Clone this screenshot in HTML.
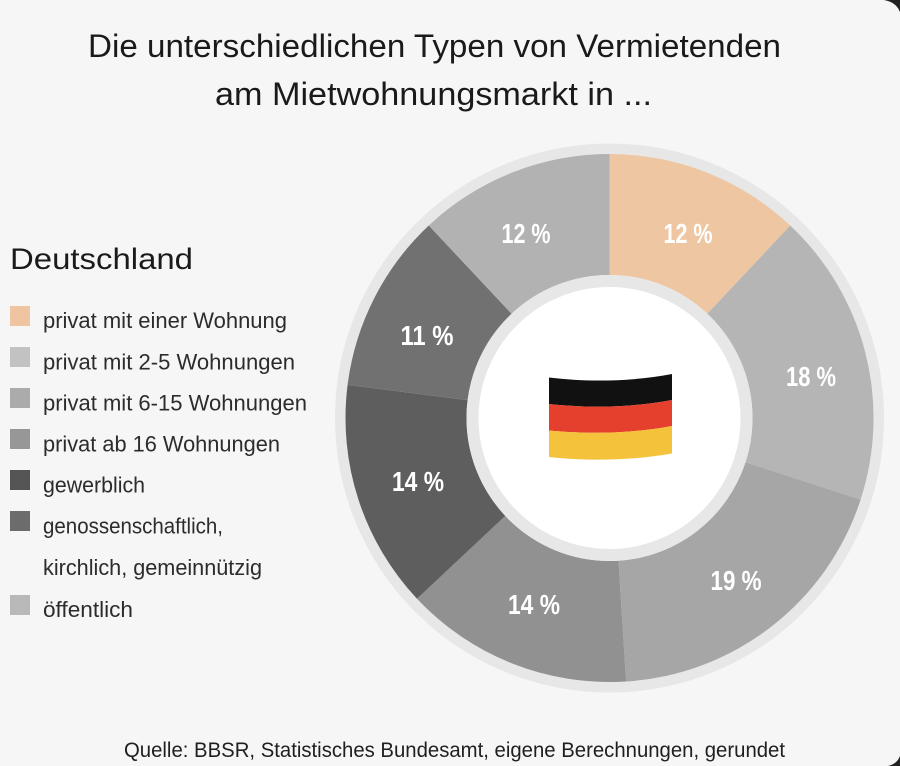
<!DOCTYPE html>
<html>
<head>
<meta charset="utf-8">
<style>
  html, body { margin: 0; padding: 0; background: #f6f6f6; }
  body { width: 900px; height: 766px; overflow: hidden; }
  svg { display: block; }
  .t { font-family: "Liberation Sans", sans-serif; }
</style>
</head>
<body>
<svg width="900" height="766" viewBox="0 0 900 766" xmlns="http://www.w3.org/2000/svg">
  <rect x="0" y="0" width="900" height="766" fill="#f6f6f6"/>

  <!-- Title -->
  <text class="t" x="88" y="57" font-size="32" fill="#1a1a1a" textLength="693" lengthAdjust="spacingAndGlyphs">Die unterschiedlichen Typen von Vermietenden</text>
  <text class="t" x="215" y="105" font-size="32" fill="#1a1a1a" textLength="437" lengthAdjust="spacingAndGlyphs">am Mietwohnungsmarkt in ...</text>

  <!-- Legend -->
  <text class="t" x="10" y="269" font-size="30" fill="#1a1a1a" textLength="183" lengthAdjust="spacingAndGlyphs">Deutschland</text>

  <rect x="10" y="306" width="20" height="20" fill="#efc4a0"/>
  <text class="t" x="43" y="328" font-size="22.5" fill="#2c2c2c" textLength="244" lengthAdjust="spacingAndGlyphs">privat mit einer Wohnung</text>

  <rect x="10" y="347" width="20" height="20" fill="#c2c2c2"/>
  <text class="t" x="43" y="369.5" font-size="22.5" fill="#2c2c2c" textLength="252" lengthAdjust="spacingAndGlyphs">privat mit 2-5 Wohnungen</text>

  <rect x="10" y="388" width="20" height="20" fill="#ababab"/>
  <text class="t" x="43" y="410.5" font-size="22.5" fill="#2c2c2c" textLength="264" lengthAdjust="spacingAndGlyphs">privat mit 6-15 Wohnungen</text>

  <rect x="10" y="429" width="20" height="20" fill="#979797"/>
  <text class="t" x="43" y="451.5" font-size="22.5" fill="#2c2c2c" textLength="237" lengthAdjust="spacingAndGlyphs">privat ab 16 Wohnungen</text>

  <rect x="10" y="470" width="20" height="20" fill="#555555"/>
  <text class="t" x="43" y="492.5" font-size="22.5" fill="#2c2c2c" textLength="102" lengthAdjust="spacingAndGlyphs">gewerblich</text>

  <rect x="10" y="511" width="20" height="20" fill="#6c6c6c"/>
  <text class="t" x="43" y="533.5" font-size="22.5" fill="#2c2c2c" textLength="180" lengthAdjust="spacingAndGlyphs">genossenschaftlich,</text>
  <text class="t" x="43" y="575" font-size="22.5" fill="#2c2c2c" textLength="219" lengthAdjust="spacingAndGlyphs">kirchlich, gemeinnützig</text>

  <rect x="10" y="595" width="20" height="20" fill="#b9b9b9"/>
  <text class="t" x="43" y="617" font-size="22.5" fill="#2c2c2c" textLength="90" lengthAdjust="spacingAndGlyphs">öffentlich</text>

  <!-- Donut outer light ring -->
  <circle cx="609.5" cy="418" r="269" fill="none" stroke="#e7e7e7" stroke-width="11"/>

  <!-- Segments -->
  <path d="M609.5 154 A264 264 0 0 1 790.2 225.5 L707.4 313.8 A143 143 0 0 0 609.5 275 Z" fill="#eec6a1"/>
  <path d="M790.2 225.5 A264 264 0 0 1 860.6 499.6 L745.5 462.2 A143 143 0 0 0 707.4 313.8 Z" fill="#b5b5b5"/>
  <path d="M860.6 499.6 A264 264 0 0 1 626.1 681.5 L618.5 560.7 A143 143 0 0 0 745.5 462.2 Z" fill="#a6a6a6"/>
  <path d="M626.1 681.5 A264 264 0 0 1 417.0 598.7 L505.3 515.9 A143 143 0 0 0 618.5 560.7 Z" fill="#919191"/>
  <path d="M417.0 598.7 A264 264 0 0 1 347.6 384.9 L467.6 400.1 A143 143 0 0 0 505.3 515.9 Z" fill="#5e5e5e"/>
  <path d="M347.6 384.9 A264 264 0 0 1 428.8 225.5 L511.6 313.8 A143 143 0 0 0 467.6 400.1 Z" fill="#717171"/>
  <path d="M428.8 225.5 A264 264 0 0 1 609.5 154 L609.5 275 A143 143 0 0 0 511.6 313.8 Z" fill="#b2b2b2"/>

  <!-- Inner ring and hole -->
  <circle cx="609.5" cy="418" r="137" fill="#ffffff" stroke="#e7e7e7" stroke-width="12"/>

  <!-- Labels -->
  <g class="t" font-size="28" font-weight="bold" fill="#ffffff" text-anchor="middle">
    <text x="526" y="243" textLength="49" lengthAdjust="spacingAndGlyphs">12 %</text>
    <text x="688" y="243" textLength="49" lengthAdjust="spacingAndGlyphs">12 %</text>
    <text x="811" y="386" textLength="50" lengthAdjust="spacingAndGlyphs">18 %</text>
    <text x="736" y="590" textLength="51" lengthAdjust="spacingAndGlyphs">19 %</text>
    <text x="534" y="614" textLength="52" lengthAdjust="spacingAndGlyphs">14 %</text>
    <text x="418" y="491" textLength="52" lengthAdjust="spacingAndGlyphs">14 %</text>
    <text x="427" y="345" textLength="53" lengthAdjust="spacingAndGlyphs">11 %</text>
  </g>

  <!-- Flag -->
  <g>
    <path d="M549 377.5 C585 382 630 382 672 374 L672 400 C630 408 585 408 549 404 Z" fill="#111111"/>
    <path d="M549 404 C585 408 630 408 672 400 L672 426 C630 434 585 434 549 430.5 Z" fill="#e5402d"/>
    <path d="M549 430.5 C585 434 630 434 672 426 L672 453.5 C630 461 585 461 549 457 Z" fill="#f5c33b"/>
  </g>

  <!-- Footer -->
  <text class="t" x="124" y="757" font-size="21" fill="#1f1f1f" textLength="661" lengthAdjust="spacingAndGlyphs">Quelle: BBSR, Statistisches Bundesamt, eigene Berechnungen, gerundet</text>

  <!-- Dark photo corners -->
  <path d="M884 0 L900 0 L900 12 Q896 2 884 0 Z" fill="#222"/>
  <path d="M888 766 L900 766 L900 756 Q897 764 888 766 Z" fill="#222"/>
</svg>
</body>
</html>
